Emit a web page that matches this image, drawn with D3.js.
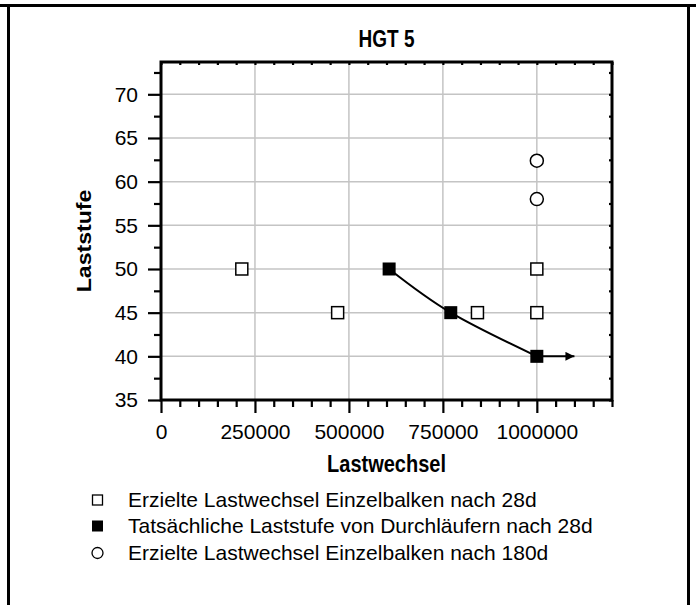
<!DOCTYPE html>
<html>
<head>
<meta charset="utf-8">
<script src="https://cdn.jsdelivr.net/npm/d3@7"></script>
<style>
  html, body { margin: 0; padding: 0; background: #fff; }
  svg { display: block; font-family: "Liberation Sans", Arial, sans-serif; }
</style>
</head>
<body>
<svg id="chart" width="696" height="605"></svg>
<script>
// Lastwechsel / Laststufe for HGT 5
const title = "HGT 5";
const xLabel = "Lastwechsel";
const yLabel = "Laststufe";

const xTicks = [0, 250000, 500000, 750000, 1000000];
const yTicks = [35, 40, 45, 50, 55, 60, 65, 70];

// Erzielte Lastwechsel Einzelbalken nach 28d
const open28X = [215000, 470000, 842000, 1000000, 1000000];
const open28Y = [50, 45, 45, 50, 45];

// Tatsächliche Laststufe von Durchläufern nach 28d
const runX = [607000, 771000, 1000000];
const runY = [50, 45, 40];
const runoutArrowX = [1000000, 1100000];

// Erzielte Lastwechsel Einzelbalken nach 180d
const open180X = [1000000, 1000000];
const open180Y = [62.4, 58];

const legendLabels = [
  "Erzielte Lastwechsel Einzelbalken nach 28d",
  "Tatsächliche Laststufe von Durchläufern nach 28d",
  "Erzielte Lastwechsel Einzelbalken nach 180d"
];

const svg = d3.select("#chart");

// outer frame (top and sides)
svg.append("line").attr("x1", 0).attr("x2", 696).attr("y1", 5.5).attr("y2", 5.5)
  .attr("stroke", "#000").attr("stroke-width", 3);
svg.append("line").attr("x1", 8.5).attr("x2", 8.5).attr("y1", 4).attr("y2", 605)
  .attr("stroke", "#000").attr("stroke-width", 3);
svg.append("line").attr("x1", 688.5).attr("x2", 688.5).attr("y1", 4).attr("y2", 605)
  .attr("stroke", "#000").attr("stroke-width", 3);

const L = 161, R = 612, T = 62, B = 400;
const x = d3.scaleLinear().domain([0, 1200000]).range([L, R]);
const y = d3.scaleLinear().domain([35, 73.7]).range([B, T]);

// grid
const g = svg.append("g");
g.selectAll("line.gx").data(xTicks.filter(d => d > 0)).join("line")
  .attr("x1", d => x(d)).attr("x2", d => x(d)).attr("y1", T).attr("y2", B)
  .attr("stroke", "#c4c4c4").attr("stroke-width", 1.5);
g.selectAll("line.gy").data(yTicks.filter(d => d > 35)).join("line")
  .attr("x1", L).attr("x2", R).attr("y1", d => y(d)).attr("y2", d => y(d))
  .attr("stroke", "#c4c4c4").attr("stroke-width", 1.5);

// axes
const xMinor = d3.range(0, 1200001, 50000);
const yMinor = d3.range(35, 73.7, 2.5);

const bottomAxis = d3.axisBottom(x).tickValues(xTicks).tickFormat(d3.format("d")).tickSize(13).tickPadding(11);
const bottomMinor = d3.axisBottom(x).tickValues(xMinor.filter(d => !xTicks.includes(d))).tickSize(7).tickFormat("");
const leftAxis = d3.axisLeft(y).tickValues(yTicks).tickSize(13).tickPadding(10);
const leftMinor = d3.axisLeft(y).tickValues(yMinor.filter(d => !yTicks.includes(d))).tickSize(7).tickFormat("");
const topAxis = d3.axisBottom(x).tickValues(xMinor).tickSize(3).tickFormat("");
const rightAxis = d3.axisRight(y).tickValues(yMinor).tickSize(3).tickFormat("");

function styleAxis(sel) {
  sel.select(".domain").remove();
  sel.selectAll(".tick line").attr("stroke", "#000").attr("stroke-width", 2.2);
  sel.selectAll(".tick text").attr("fill", "#000").attr("font-size", 21)
    .attr("font-family", "'Liberation Sans', Arial, sans-serif");
}

svg.append("g").attr("transform", `translate(0,${B})`).call(bottomAxis).call(styleAxis);
svg.append("g").attr("transform", `translate(0,${B})`).call(bottomMinor).call(styleAxis);
svg.append("g").attr("transform", `translate(${L},0)`).call(leftAxis).call(styleAxis);
svg.append("g").attr("transform", `translate(${L},0)`).call(leftMinor).call(styleAxis);
svg.append("g").attr("transform", `translate(0,${T})`).call(topAxis).call(styleAxis);
svg.append("g").attr("transform", `translate(${R - 3},0)`).call(rightAxis).call(styleAxis);

// plot frame
svg.append("rect").attr("x", L).attr("y", T).attr("width", R - L).attr("height", B - T)
  .attr("fill", "none").attr("stroke", "#000").attr("stroke-width", 3);

// titles (slightly tall lettering)
svg.append("text").attr("transform", `translate(${(L + R) / 2},47) scale(1,1.25)`)
  .attr("text-anchor", "middle").attr("font-size", 19).attr("font-weight", "bold").text(title);
svg.append("text").attr("transform", `translate(${(L + R) / 2},472) scale(1,1.2)`)
  .attr("text-anchor", "middle").attr("font-size", 20).attr("font-weight", "bold").text(xLabel);
svg.append("text").attr("transform", `translate(91,241) rotate(-90) scale(1.1,1)`)
  .attr("text-anchor", "middle").attr("font-size", 21).attr("font-weight", "bold").text(yLabel);

// fitted curve through the run-out levels
const curvePts = runX.map((d, i) => [x(d), y(runY[i])]);
svg.append("path").attr("d", d3.line().curve(d3.curveNatural)(curvePts))
  .attr("fill", "none").attr("stroke", "#000").attr("stroke-width", 2);

// run-out arrow
svg.append("defs").append("marker").attr("id", "arrow")
  .attr("viewBox", "0 0 10 10").attr("refX", 10).attr("refY", 5)
  .attr("markerWidth", 10).attr("markerHeight", 9).attr("markerUnits", "userSpaceOnUse")
  .attr("orient", "auto")
  .append("path").attr("d", "M0,0 L10,5 L0,10 Z").attr("fill", "#000");
svg.append("line")
  .attr("x1", x(runoutArrowX[0])).attr("x2", x(runoutArrowX[1]))
  .attr("y1", y(runY[2])).attr("y2", y(runY[2]))
  .attr("stroke", "#000").attr("stroke-width", 2).attr("marker-end", "url(#arrow)");

const S = 12;
// open squares
svg.selectAll("rect.o28").data(open28X).join("rect")
  .attr("x", d => x(d) - S / 2).attr("y", (d, i) => y(open28Y[i]) - S / 2)
  .attr("width", S).attr("height", S)
  .attr("fill", "#fff").attr("stroke", "#000").attr("stroke-width", 1.5);
// filled squares
svg.selectAll("rect.run").data(runX).join("rect")
  .attr("x", d => x(d) - 6.5).attr("y", (d, i) => y(runY[i]) - 6.5)
  .attr("width", 13).attr("height", 13).attr("fill", "#000");
// open circles
svg.selectAll("circle.o180").data(open180X).join("circle")
  .attr("cx", d => x(d)).attr("cy", (d, i) => y(open180Y[i])).attr("r", 6.5)
  .attr("fill", "#fff").attr("stroke", "#000").attr("stroke-width", 1.5);

// legend
const lg = svg.append("g");
const rowBase = [507, 533, 560];
const symX = 97.5;
legendLabels.forEach((lab, i) => {
  const cy = rowBase[i] - 7;
  if (i === 0) lg.append("rect").attr("x", symX - 5).attr("y", cy - 5).attr("width", 10).attr("height", 10)
    .attr("fill", "#fff").attr("stroke", "#000").attr("stroke-width", 1.3);
  if (i === 1) lg.append("rect").attr("x", symX - 5.5).attr("y", cy - 5.5).attr("width", 11).attr("height", 11)
    .attr("fill", "#000");
  if (i === 2) lg.append("circle").attr("cx", symX).attr("cy", cy).attr("r", 5.5)
    .attr("fill", "#fff").attr("stroke", "#000").attr("stroke-width", 1.3);
  lg.append("text").attr("x", 128).attr("y", rowBase[i]).attr("font-size", 21).text(lab);
});
</script>
</body>
</html>
